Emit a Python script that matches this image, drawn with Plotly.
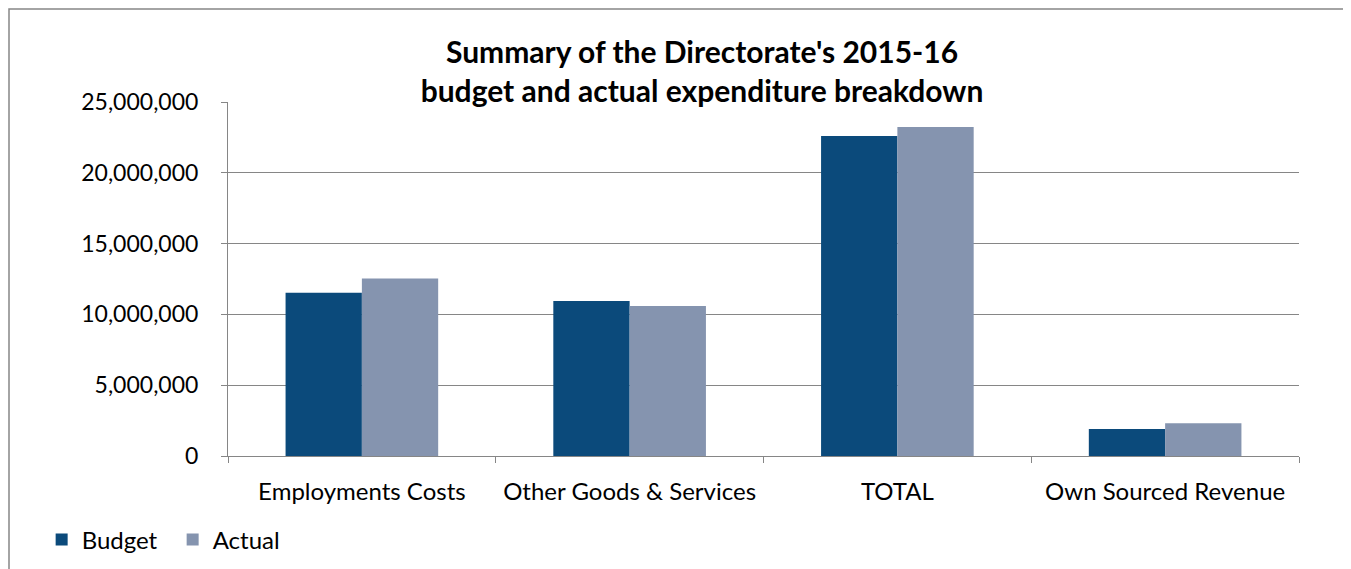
import plotly.graph_objects as go

categories = ["Employments Costs", "Other Goods & Services", "TOTAL", "Own Sourced Revenue"]
budget = [11530000, 10940000, 22600000, 1900000]
actual = [12540000, 10590000, 23230000, 2320000]
y_ticks = [0, 5000000, 10000000, 15000000, 20000000, 25000000]
y_tick_labels = ["0", "5,000,000", "10,000,000", "15,000,000", "20,000,000", "25,000,000"]

FONT = "Lato, Calibri, Carlito, sans-serif"

fig = go.Figure()
fig.add_trace(go.Bar(name="Budget", x=categories, y=budget, marker_color="#0B4A7B",
                     marker_line_width=0))
fig.add_trace(go.Bar(name="Actual", x=categories, y=actual, marker_color="#8594AF",
                     marker_line_width=0))

fig.update_layout(
    width=1351, height=569,
    margin=dict(l=220, r=60, t=94, b=121),
    paper_bgcolor="white", plot_bgcolor="white",
    barmode="group", bargap=0.43, bargroupgap=0,
    font=dict(family=FONT, size=23, color="black"),
    title=dict(text="<b>Summary of the Directorate's 2015-16<br>budget and actual expenditure breakdown</b>",
               x=694/1351, xanchor="center", xref="container",
               y=1-55/569, yanchor="middle", yref="container",
               font=dict(family=FONT, size=30, color="black")),
    showlegend=True,
    legend=dict(orientation="h", x=-0.174, xanchor="left", y=-0.237, yanchor="middle",
                font=dict(family=FONT, size=24), bgcolor="rgba(0,0,0,0)", traceorder="normal",
                entrywidth=86),
    xaxis=dict(showline=True, linecolor="#868686", linewidth=1, ticks="outside", tickson="boundaries",
               ticklen=6, tickcolor="#868686", showgrid=False, ticklabelstandoff=14,
               tickfont=dict(size=24)),
    yaxis=dict(range=[0, 25000000], tickvals=y_ticks, ticktext=y_tick_labels,
               showline=True, linecolor="#868686", linewidth=1, ticks="outside", ticklen=6,
               tickcolor="#868686", showgrid=True, gridcolor="#868686", gridwidth=1,
               zeroline=False, ticklabelstandoff=18, tickfont=dict(size=23)),
)

fig.add_shape(type="rect", xref="paper", yref="paper", x0=-219/1071, x1=1.2,
              y0=-0.6, y1=(354+93)/354, line=dict(color="#868686", width=1.5),
              fillcolor="rgba(0,0,0,0)", layer="below")

fig.write_html("out.html")
